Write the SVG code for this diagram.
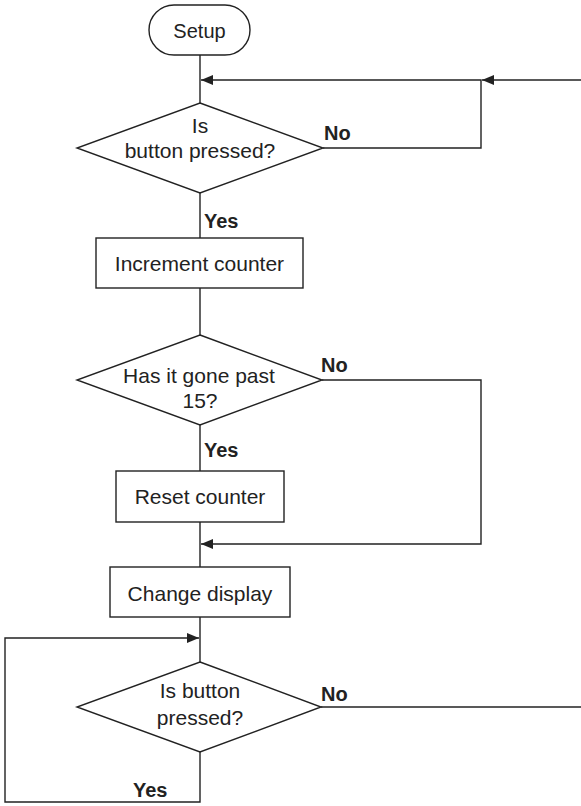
<svg xmlns="http://www.w3.org/2000/svg" width="581" height="806" viewBox="0 0 581 806">
<style>
.s{fill:#fff;stroke:#222;stroke-width:1.4}
.c{fill:none;stroke:#222;stroke-width:1.4}
.t{font-family:"Liberation Sans",Arial,sans-serif;font-size:21px;fill:#222;text-anchor:middle}
.l{font-family:"Liberation Sans",Arial,sans-serif;font-size:20px;font-weight:bold;fill:#222}
</style>
<defs>
<marker id="ah" viewBox="0 0 12 10" refX="12" refY="5" markerWidth="12" markerHeight="10" markerUnits="userSpaceOnUse" orient="auto">
<path d="M0,0 L12,5 L0,10 Z" fill="#222"/>
</marker>
</defs>
<g id="connectors">
<line class="c" x1="200" y1="55" x2="200" y2="103"/>
<line class="c" x1="581" y1="80" x2="482" y2="80" marker-end="url(#ah)"/>
<polyline class="c" points="323,148 481,148 481,80 201,80" marker-end="url(#ah)"/>
<line class="c" x1="200" y1="193" x2="200" y2="238"/>
<line class="c" x1="200" y1="288" x2="200" y2="335"/>
<polyline class="c" points="322,380 481,380 481,544 201,544" marker-end="url(#ah)"/>
<line class="c" x1="200" y1="425" x2="200" y2="471"/>
<line class="c" x1="200" y1="522" x2="200" y2="567"/>
<line class="c" x1="200" y1="617" x2="200" y2="662"/>
<polyline class="c" points="200,752 200,802 5,802 5,638 199,638" marker-end="url(#ah)"/>
<line class="c" x1="321" y1="707" x2="581" y2="707"/>
<text class="l" x="324" y="140">No</text>
<text class="l" x="204" y="228">Yes</text>
<text class="l" x="321" y="372">No</text>
<text class="l" x="204" y="457">Yes</text>
<text class="l" x="321" y="701">No</text>
<text class="l" x="133" y="797">Yes</text>
</g>
<g id="setup">
<rect class="s" x="149" y="5" width="101" height="50" rx="25" ry="25"/>
<text class="t" x="199.5" y="38" style="font-size:20px">Setup</text>
</g>
<g id="decision1">
<polygon class="s" points="200,103 323,148 200,193 77,148"/>
<text class="t" x="200" y="133">Is</text>
<text class="t" x="200" y="158">button pressed?</text>
</g>
<g id="increment">
<rect class="s" x="96" y="238" width="207" height="50"/>
<text class="t" x="199.5" y="271">Increment counter</text>
</g>
<g id="decision2">
<polygon class="s" points="200,335 322,380 200,425 77,380"/>
<text class="t" x="199" y="383">Has it gone past</text>
<text class="t" x="200" y="408">15?</text>
</g>
<g id="reset">
<rect class="s" x="116" y="471" width="168" height="51"/>
<text class="t" x="200" y="504">Reset counter</text>
</g>
<g id="change">
<rect class="s" x="110" y="567" width="180" height="50"/>
<text class="t" x="200" y="601">Change display</text>
</g>
<g id="decision3">
<polygon class="s" points="200,662 321,707 200,752 77,707"/>
<text class="t" x="200" y="698">Is button</text>
<text class="t" x="200" y="725">pressed?</text>
</g>
</svg>
